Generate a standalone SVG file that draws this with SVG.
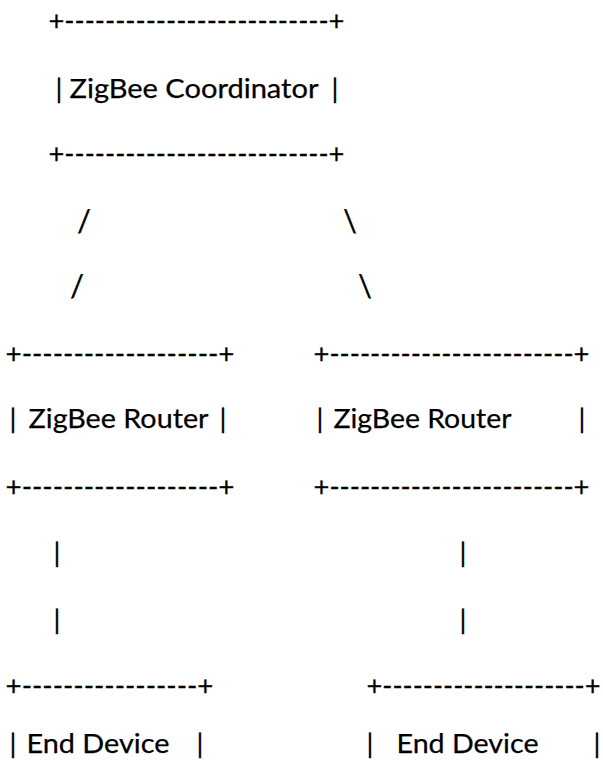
<svg xmlns="http://www.w3.org/2000/svg" width="603" height="767" viewBox="0 0 603 767">
<style>
  text { font-family: Lato, "Open Sans", "Liberation Sans", sans-serif; font-size: 27.5px; fill: #000; stroke: #000; stroke-width: 0.25px; }
  .m { text-anchor: middle; }
  .s { font-size: 31px; }
</style>
<rect width="603" height="767" fill="#fff"/>
<g id="coordinator">
  <text x="48.5" y="30" textLength="296" lengthAdjust="spacingAndGlyphs">+--------------------------+</text>
  <text class="m" x="59" y="98">|</text>
  <text x="69.5" y="98" textLength="249" lengthAdjust="spacingAndGlyphs">ZigBee Coordinator</text>
  <text class="m" x="335" y="98">|</text>
  <text x="48.5" y="163" textLength="296" lengthAdjust="spacingAndGlyphs">+--------------------------+</text>
</g>
<g id="router-left">
  <text x="5.5" y="363" textLength="229" lengthAdjust="spacingAndGlyphs">+-------------------+</text>
  <text class="m" x="13" y="428">|</text>
  <text x="28.5" y="428" textLength="180" lengthAdjust="spacingAndGlyphs">ZigBee Router</text>
  <text class="m" x="223" y="428">|</text>
  <text x="5.5" y="496" textLength="229" lengthAdjust="spacingAndGlyphs">+-------------------+</text>
</g>
<g id="router-right">
  <text x="313.5" y="363" textLength="276" lengthAdjust="spacingAndGlyphs">+------------------------+</text>
  <text class="m" x="320" y="428">|</text>
  <text x="333.5" y="428" textLength="178" lengthAdjust="spacingAndGlyphs">ZigBee Router</text>
  <text class="m" x="582" y="428">|</text>
  <text x="313.5" y="496" textLength="276" lengthAdjust="spacingAndGlyphs">+------------------------+</text>
</g>
<g id="end-device-left">
  <text x="5.5" y="695" textLength="208" lengthAdjust="spacingAndGlyphs">+-----------------+</text>
  <text class="m" x="13" y="753">|</text>
  <text x="26.5" y="753" textLength="143" lengthAdjust="spacingAndGlyphs">End Device</text>
  <text class="m" x="200" y="753">|</text>
</g>
<g id="end-device-right">
  <text x="366.5" y="695" textLength="234" lengthAdjust="spacingAndGlyphs">+--------------------+</text>
  <text class="m" x="370" y="753">|</text>
  <text x="396.5" y="753" textLength="142" lengthAdjust="spacingAndGlyphs">End Device</text>
  <text class="m" x="597" y="753">|</text>
</g>
<g id="connectors">
  <text class="m s" x="84" y="232">/</text>
  <text class="m s" x="77" y="297">/</text>
  <text class="m s" x="350" y="232">\</text>
  <text class="m s" x="365" y="297">\</text>
  <text class="m" x="57" y="562">|</text>
  <text class="m" x="57" y="629">|</text>
  <text class="m" x="463" y="562">|</text>
  <text class="m" x="463" y="629">|</text>
</g>
</svg>
